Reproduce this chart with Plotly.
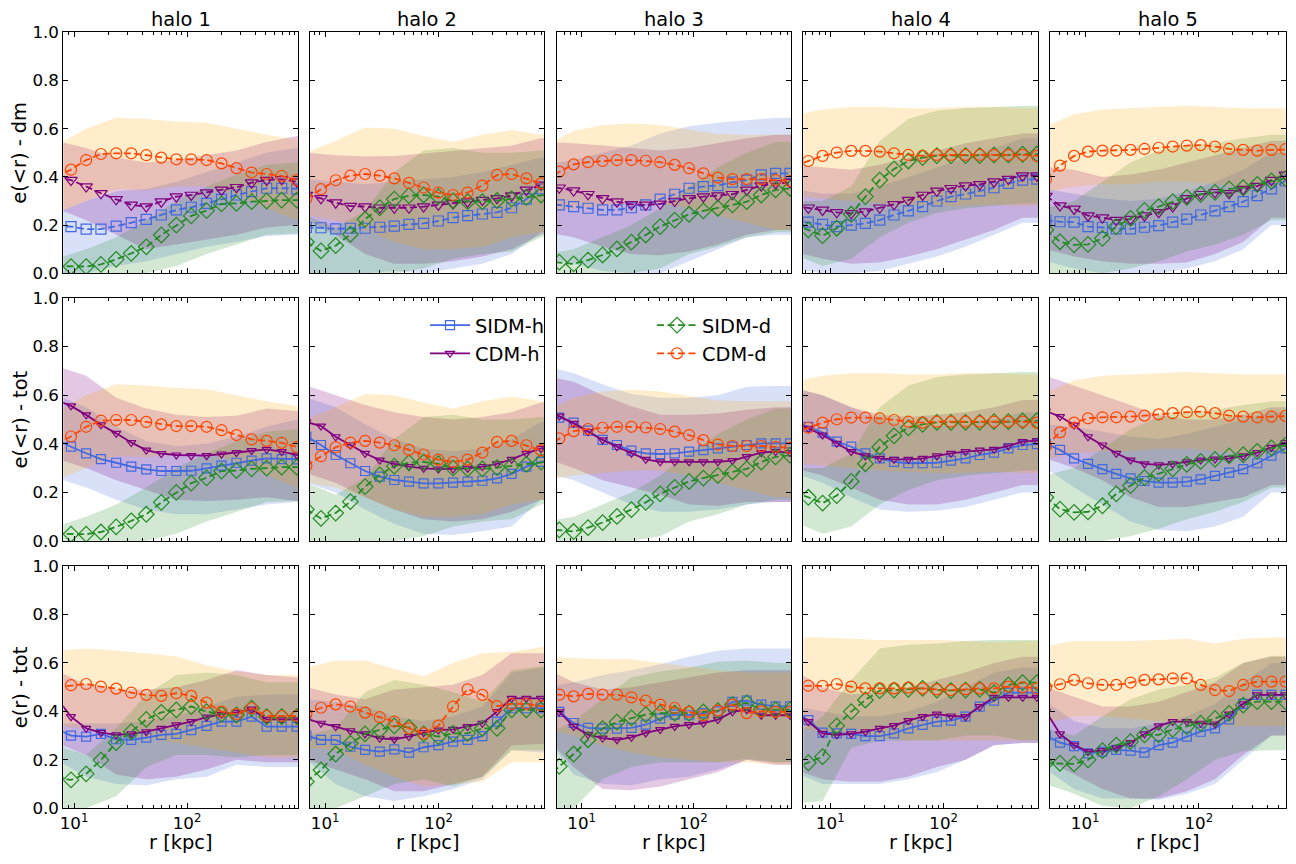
import plotly.graph_objects as go

# radios (kpc) de cada halo; el primero y el ultimo caen fuera del eje
r_h1 = [6.92, 9.40, 12.8, 17.3, 23.6, 32.1, 43.6, 59.2, 80.4, 109, 149, 202, 274, 373, 507, 689, 936, 1271]
r_h2 = [6.84, 9.20, 12.4, 16.7, 22.5, 30.3, 40.7, 54.8, 73.8, 99.5, 134, 180, 243, 327, 440, 593, 798, 1074]
r_h3 = [4.68, 6.30, 8.47, 11.4, 15.4, 20.7, 27.9, 37.5, 50.5, 68.1, 91.6, 123, 166, 224, 301, 406, 546, 735, 989]
r_h4 = [4.79, 6.40, 8.55, 11.4, 15.3, 20.4, 27.3, 36.5, 48.8, 65.2, 87.1, 116, 156, 208, 278, 372, 497, 664, 887]
r_h5 = [4.52, 6.01, 8.00, 10.6, 14.2, 18.8, 25.1, 33.3, 44.4, 59.0, 78.5, 104, 139, 185, 246, 327, 436, 579, 771]

# ---- halo 1 ----
cum_cdm_d_h1 = [0.40, 0.43, 0.47, 0.495, 0.498, 0.498, 0.49, 0.48, 0.473, 0.473, 0.47, 0.456, 0.436, 0.418, 0.412, 0.404, 0.387, 0.38]
cum_sidm_d_h1 = [0.03, 0.028, 0.028, 0.037, 0.058, 0.083, 0.11, 0.159, 0.2, 0.238, 0.26, 0.288, 0.29, 0.297, 0.3, 0.304, 0.304, 0.305]
dm_cdm_h_h1 = [0.40, 0.387, 0.36, 0.332, 0.307, 0.284, 0.277, 0.297, 0.318, 0.325, 0.335, 0.346, 0.357, 0.376, 0.387, 0.39, 0.38, 0.375]
dm_sidm_h_h1 = [0.195, 0.194, 0.183, 0.183, 0.196, 0.21, 0.224, 0.242, 0.263, 0.274, 0.29, 0.307, 0.325, 0.339, 0.353, 0.353, 0.349, 0.349]
tot_cdm_h_h1 = [0.58, 0.556, 0.519, 0.478, 0.443, 0.405, 0.374, 0.36, 0.354, 0.351, 0.351, 0.358, 0.364, 0.372, 0.377, 0.368, 0.354, 0.35]
tot_sidm_h_h1 = [0.42, 0.388, 0.361, 0.337, 0.322, 0.306, 0.295, 0.288, 0.288, 0.289, 0.299, 0.31, 0.322, 0.331, 0.34, 0.337, 0.336, 0.335]
diff_cdm_d_h1 = [0.50, 0.508, 0.513, 0.502, 0.494, 0.477, 0.468, 0.464, 0.475, 0.464, 0.436, 0.399, 0.389, 0.413, 0.381, 0.381, 0.381, 0.381]
diff_cdm_h_h1 = [0.46, 0.378, 0.33, 0.312, 0.303, 0.307, 0.316, 0.33, 0.344, 0.358, 0.376, 0.388, 0.396, 0.409, 0.367, 0.365, 0.365, 0.365]
diff_sidm_h_h1 = [0.33, 0.3, 0.296, 0.307, 0.285, 0.282, 0.292, 0.303, 0.307, 0.323, 0.34, 0.358, 0.358, 0.378, 0.337, 0.337, 0.337, 0.337]
diff_sidm_d_h1 = [0.125, 0.117, 0.142, 0.199, 0.271, 0.316, 0.367, 0.396, 0.406, 0.42, 0.399, 0.389, 0.385, 0.413, 0.378, 0.378, 0.378, 0.378]

cum_cdm_d_band_h1 = ([0.25, 0.30, 0.35, 0.345, 0.36, 0.36, 0.33, 0.27, 0.22, 0.21], [0.53, 0.60, 0.645, 0.64, 0.63, 0.625, 0.60, 0.575, 0.555, 0.55])
cum_sidm_d_band_h1 = ([0.0, 0.0, 0.0, 0.0, 0.03, 0.08, 0.12, 0.16, 0.165, 0.165], [0.06, 0.10, 0.15, 0.22, 0.30, 0.36, 0.41, 0.45, 0.46, 0.46])
dm_cdm_h_band_h1 = ([0.27, 0.22, 0.16, 0.10, 0.12, 0.14, 0.16, 0.19, 0.20, 0.20], [0.55, 0.52, 0.48, 0.46, 0.47, 0.49, 0.51, 0.545, 0.57, 0.57])
dm_sidm_h_band_h1 = ([0.0, 0.0, 0.03, 0.05, 0.08, 0.11, 0.13, 0.155, 0.16, 0.16], [0.25, 0.30, 0.34, 0.35, 0.38, 0.42, 0.46, 0.50, 0.52, 0.52])
tot_cdm_h_band_h1 = ([0.34, 0.30, 0.25, 0.21, 0.17, 0.165, 0.17, 0.18, 0.165, 0.165], [0.72, 0.68, 0.59, 0.545, 0.52, 0.51, 0.515, 0.545, 0.535, 0.535])
tot_sidm_h_band_h1 = ([0.26, 0.22, 0.17, 0.13, 0.11, 0.11, 0.13, 0.15, 0.16, 0.16], [0.60, 0.55, 0.47, 0.41, 0.39, 0.40, 0.43, 0.47, 0.50, 0.50])
diff_cdm_d_band_h1 = ([0.34, 0.33, 0.31, 0.29, 0.27, 0.25, 0.23, 0.21, 0.21, 0.21], [0.65, 0.66, 0.65, 0.64, 0.626, 0.59, 0.565, 0.55, 0.55, 0.55])
diff_cdm_h_band_h1 = ([0.27, 0.22, 0.14, 0.12, 0.13, 0.16, 0.20, 0.19, 0.19, 0.19], [0.57, 0.51, 0.49, 0.49, 0.50, 0.53, 0.57, 0.55, 0.54, 0.54])
diff_sidm_h_band_h1 = ([0.20, 0.13, 0.10, 0.095, 0.12, 0.13, 0.18, 0.17, 0.17, 0.17], [0.35, 0.35, 0.35, 0.36, 0.38, 0.42, 0.46, 0.47, 0.47, 0.47])
diff_sidm_d_band_h1 = ([0.0, 0.0, 0.05, 0.17, 0.22, 0.22, 0.21, 0.22, 0.22, 0.22], [0.26, 0.22, 0.33, 0.47, 0.55, 0.56, 0.55, 0.52, 0.52, 0.52])

# ---- halo 2 ----
cum_cdm_d_h2 = [0.31, 0.349, 0.386, 0.405, 0.412, 0.405, 0.394, 0.375, 0.356, 0.335, 0.325, 0.335, 0.364, 0.408, 0.412, 0.394, 0.373, 0.36]
cum_sidm_d_h2 = [0.13, 0.093, 0.115, 0.162, 0.224, 0.272, 0.308, 0.322, 0.325, 0.318, 0.3, 0.297, 0.297, 0.302, 0.309, 0.315, 0.325, 0.33]
dm_cdm_h_h2 = [0.325, 0.311, 0.293, 0.279, 0.277, 0.272, 0.272, 0.272, 0.277, 0.284, 0.29, 0.297, 0.304, 0.311, 0.322, 0.346, 0.367, 0.38]
dm_sidm_h_h2 = [0.19, 0.189, 0.184, 0.187, 0.187, 0.191, 0.196, 0.203, 0.207, 0.217, 0.231, 0.239, 0.246, 0.253, 0.272, 0.308, 0.35, 0.37]
tot_cdm_h_h2 = [0.49, 0.473, 0.429, 0.395, 0.361, 0.333, 0.317, 0.306, 0.299, 0.296, 0.296, 0.299, 0.306, 0.317, 0.336, 0.361, 0.381, 0.39]
tot_sidm_h_h2 = [0.43, 0.395, 0.354, 0.32, 0.288, 0.265, 0.251, 0.244, 0.237, 0.237, 0.24, 0.244, 0.248, 0.258, 0.276, 0.306, 0.326, 0.335]
diff_cdm_d_h2 = [0.39, 0.415, 0.429, 0.42, 0.395, 0.376, 0.358, 0.33, 0.309, 0.341, 0.42, 0.491, 0.468, 0.422, 0.431, 0.431, 0.422, 0.42]
diff_cdm_h_h2 = [0.37, 0.351, 0.337, 0.32, 0.307, 0.289, 0.285, 0.296, 0.312, 0.323, 0.326, 0.337, 0.351, 0.399, 0.454, 0.454, 0.454, 0.454]
diff_sidm_h_h2 = [0.30, 0.282, 0.282, 0.254, 0.241, 0.234, 0.243, 0.23, 0.252, 0.261, 0.275, 0.282, 0.298, 0.358, 0.413, 0.413, 0.413, 0.413]
diff_sidm_d_h2 = [0.11, 0.158, 0.224, 0.268, 0.307, 0.323, 0.34, 0.334, 0.307, 0.296, 0.309, 0.309, 0.33, 0.33, 0.406, 0.406, 0.406, 0.406]

cum_cdm_d_band_h2 = ([0.24, 0.22, 0.18, 0.13, 0.10, 0.10, 0.11, 0.15, 0.17, 0.17], [0.50, 0.55, 0.605, 0.60, 0.57, 0.545, 0.575, 0.595, 0.575, 0.575])
cum_sidm_d_band_h2 = ([0.0, 0.0, 0.0, 0.0, 0.02, 0.06, 0.08, 0.09, 0.15, 0.16], [0.24, 0.19, 0.26, 0.42, 0.51, 0.52, 0.50, 0.50, 0.51, 0.51])
dm_cdm_h_band_h2 = ([0.22, 0.16, 0.08, 0.04, 0.04, 0.05, 0.07, 0.10, 0.16, 0.17], [0.50, 0.49, 0.485, 0.487, 0.497, 0.508, 0.516, 0.53, 0.56, 0.56])
dm_sidm_h_band_h2 = ([0.0, 0.0, 0.0, 0.01, 0.0, 0.02, 0.04, 0.08, 0.17, 0.18], [0.39, 0.38, 0.37, 0.38, 0.39, 0.40, 0.42, 0.45, 0.48, 0.48])
tot_cdm_h_band_h2 = ([0.28, 0.24, 0.18, 0.13, 0.09, 0.08, 0.09, 0.12, 0.17, 0.17], [0.64, 0.60, 0.56, 0.53, 0.51, 0.50, 0.51, 0.53, 0.57, 0.57])
tot_sidm_h_band_h2 = ([0.24, 0.20, 0.13, 0.07, 0.03, 0.025, 0.04, 0.06, 0.17, 0.17], [0.59, 0.55, 0.48, 0.42, 0.38, 0.37, 0.38, 0.42, 0.49, 0.49])
diff_cdm_d_band_h2 = ([0.25, 0.24, 0.18, 0.13, 0.09, 0.10, 0.11, 0.19, 0.19, 0.19], [0.58, 0.61, 0.61, 0.575, 0.545, 0.60, 0.64, 0.645, 0.665, 0.665])
diff_cdm_h_band_h2 = ([0.20, 0.16, 0.12, 0.07, 0.07, 0.10, 0.13, 0.26, 0.265, 0.265], [0.50, 0.47, 0.45, 0.49, 0.50, 0.51, 0.55, 0.64, 0.64, 0.64])
diff_sidm_h_band_h2 = ([0.20, 0.10, 0.05, 0.03, 0.05, 0.08, 0.12, 0.24, 0.23, 0.23], [0.45, 0.44, 0.42, 0.38, 0.36, 0.38, 0.42, 0.56, 0.58, 0.58])
diff_sidm_d_band_h2 = ([0.0, 0.0, 0.05, 0.10, 0.12, 0.09, 0.13, 0.24, 0.24, 0.24], [0.30, 0.33, 0.48, 0.53, 0.51, 0.48, 0.44, 0.57, 0.585, 0.585])

# ---- halo 3 ----
cum_cdm_d_h3 = [0.39, 0.422, 0.452, 0.461, 0.466, 0.47, 0.47, 0.467, 0.461, 0.45, 0.436, 0.415, 0.397, 0.391, 0.391, 0.391, 0.387, 0.383, 0.38]
cum_sidm_d_h3 = [0.05, 0.046, 0.039, 0.055, 0.076, 0.101, 0.129, 0.159, 0.194, 0.221, 0.245, 0.259, 0.27, 0.284, 0.297, 0.325, 0.346, 0.353, 0.36]
dm_cdm_h_h3 = [0.365, 0.355, 0.343, 0.328, 0.311, 0.297, 0.286, 0.284, 0.288, 0.3, 0.311, 0.318, 0.322, 0.328, 0.346, 0.364, 0.373, 0.378, 0.38]
dm_sidm_h_h3 = [0.29, 0.284, 0.277, 0.27, 0.263, 0.263, 0.272, 0.284, 0.308, 0.328, 0.353, 0.36, 0.364, 0.378, 0.387, 0.408, 0.415, 0.415, 0.415]
tot_cdm_h_h3 = [0.54, 0.514, 0.484, 0.45, 0.416, 0.388, 0.361, 0.336, 0.326, 0.326, 0.326, 0.326, 0.326, 0.331, 0.347, 0.364, 0.368, 0.364, 0.36]
tot_sidm_h_h3 = [0.53, 0.508, 0.487, 0.454, 0.416, 0.395, 0.372, 0.361, 0.358, 0.361, 0.368, 0.374, 0.381, 0.388, 0.395, 0.402, 0.402, 0.402, 0.402]
diff_cdm_d_h3 = [0.47, 0.469, 0.462, 0.472, 0.469, 0.469, 0.458, 0.444, 0.428, 0.414, 0.398, 0.384, 0.403, 0.428, 0.393, 0.4, 0.398, 0.398, 0.398]
diff_cdm_h_h3 = [0.45, 0.398, 0.338, 0.304, 0.29, 0.283, 0.293, 0.311, 0.325, 0.338, 0.345, 0.352, 0.366, 0.398, 0.407, 0.384, 0.384, 0.384, 0.384]
diff_sidm_h_h3 = [0.44, 0.398, 0.352, 0.332, 0.329, 0.329, 0.332, 0.345, 0.37, 0.387, 0.384, 0.393, 0.4, 0.439, 0.444, 0.428, 0.421, 0.421, 0.421]
diff_sidm_d_h3 = [0.12, 0.173, 0.224, 0.283, 0.329, 0.356, 0.373, 0.387, 0.393, 0.393, 0.393, 0.398, 0.403, 0.428, 0.435, 0.407, 0.407, 0.407, 0.407]

cum_cdm_d_band_h3 = ([0.25, 0.27, 0.28, 0.29, 0.29, 0.27, 0.24, 0.21, 0.18, 0.18], [0.53, 0.59, 0.615, 0.622, 0.615, 0.595, 0.578, 0.575, 0.575, 0.575])
cum_sidm_d_band_h3 = ([0.0, 0.0, 0.0, 0.0, 0.02, 0.08, 0.11, 0.15, 0.17, 0.17], [0.08, 0.10, 0.15, 0.20, 0.27, 0.36, 0.44, 0.50, 0.545, 0.545])
dm_cdm_h_band_h3 = ([0.17, 0.15, 0.11, 0.08, 0.075, 0.09, 0.12, 0.16, 0.18, 0.18], [0.545, 0.54, 0.53, 0.52, 0.51, 0.52, 0.54, 0.56, 0.575, 0.575])
dm_sidm_h_band_h3 = ([0.06, 0.04, 0.01, 0.0, 0.0, 0.05, 0.10, 0.15, 0.16, 0.16], [0.45, 0.47, 0.50, 0.53, 0.58, 0.61, 0.625, 0.635, 0.645, 0.645])
tot_cdm_h_band_h3 = ([0.34, 0.30, 0.25, 0.22, 0.19, 0.15, 0.145, 0.16, 0.16, 0.16], [0.68, 0.655, 0.60, 0.555, 0.52, 0.52, 0.525, 0.54, 0.55, 0.55])
tot_sidm_h_band_h3 = ([0.28, 0.25, 0.20, 0.15, 0.12, 0.12, 0.13, 0.15, 0.16, 0.16], [0.72, 0.69, 0.645, 0.605, 0.59, 0.59, 0.60, 0.635, 0.638, 0.638])
diff_cdm_d_band_h3 = ([0.33, 0.30, 0.26, 0.23, 0.21, 0.20, 0.19, 0.19, 0.18, 0.18], [0.625, 0.62, 0.615, 0.615, 0.60, 0.585, 0.57, 0.56, 0.56, 0.56])
diff_cdm_h_band_h3 = ([0.30, 0.17, 0.08, 0.075, 0.09, 0.12, 0.15, 0.20, 0.18, 0.18], [0.58, 0.52, 0.49, 0.50, 0.52, 0.54, 0.56, 0.57, 0.57, 0.57])
diff_sidm_h_band_h3 = ([0.30, 0.14, 0.10, 0.095, 0.12, 0.13, 0.16, 0.20, 0.19, 0.19], [0.50, 0.52, 0.55, 0.57, 0.595, 0.625, 0.65, 0.66, 0.66, 0.66])
diff_sidm_d_band_h3 = ([0.0, 0.0, 0.12, 0.17, 0.19, 0.19, 0.19, 0.205, 0.19, 0.19], [0.30, 0.36, 0.45, 0.54, 0.565, 0.58, 0.605, 0.61, 0.60, 0.60])

# ---- halo 4 ----
cum_cdm_d_h4 = [0.445, 0.466, 0.487, 0.501, 0.508, 0.508, 0.505, 0.498, 0.491, 0.487, 0.491, 0.491, 0.491, 0.491, 0.491, 0.491, 0.491, 0.487, 0.487]
cum_sidm_d_h4 = [0.20, 0.18, 0.156, 0.187, 0.245, 0.318, 0.387, 0.433, 0.466, 0.48, 0.488, 0.488, 0.488, 0.488, 0.491, 0.491, 0.494, 0.495, 0.495]
dm_cdm_h_h4 = [0.28, 0.272, 0.263, 0.253, 0.249, 0.256, 0.272, 0.286, 0.304, 0.325, 0.342, 0.353, 0.364, 0.369, 0.38, 0.391, 0.405, 0.405, 0.405]
dm_sidm_h_h4 = [0.22, 0.212, 0.203, 0.194, 0.2, 0.207, 0.221, 0.242, 0.259, 0.277, 0.3, 0.318, 0.329, 0.342, 0.355, 0.373, 0.387, 0.391, 0.395]
tot_cdm_h_h4 = [0.49, 0.464, 0.436, 0.402, 0.368, 0.35, 0.34, 0.336, 0.336, 0.34, 0.35, 0.361, 0.368, 0.374, 0.377, 0.391, 0.409, 0.413, 0.413]
tot_sidm_h_h4 = [0.49, 0.47, 0.446, 0.409, 0.388, 0.361, 0.34, 0.326, 0.32, 0.32, 0.322, 0.331, 0.34, 0.354, 0.364, 0.381, 0.395, 0.399, 0.40]
diff_cdm_d_h4 = [0.505, 0.506, 0.505, 0.513, 0.502, 0.495, 0.495, 0.495, 0.498, 0.495, 0.491, 0.488, 0.491, 0.495, 0.495, 0.502, 0.499, 0.495, 0.495]
diff_cdm_h_h4 = [0.40, 0.358, 0.309, 0.303, 0.307, 0.316, 0.33, 0.341, 0.362, 0.378, 0.389, 0.381, 0.378, 0.42, 0.458, 0.458, 0.458, 0.458, 0.458]
diff_sidm_h_h4 = [0.40, 0.364, 0.312, 0.309, 0.307, 0.298, 0.298, 0.309, 0.33, 0.344, 0.358, 0.362, 0.378, 0.42, 0.444, 0.477, 0.477, 0.477, 0.477]
diff_sidm_d_h4 = [0.165, 0.188, 0.213, 0.34, 0.399, 0.447, 0.486, 0.488, 0.491, 0.495, 0.488, 0.486, 0.488, 0.491, 0.477, 0.509, 0.519, 0.519, 0.519]

cum_cdm_d_band_h4 = ([0.32, 0.31, 0.30, 0.29, 0.285, 0.28, 0.28, 0.285, 0.28, 0.28], [0.655, 0.68, 0.69, 0.69, 0.685, 0.685, 0.69, 0.69, 0.685, 0.685])
cum_sidm_d_band_h4 = ([0.08, 0.03, 0.06, 0.15, 0.21, 0.25, 0.27, 0.28, 0.29, 0.29], [0.30, 0.30, 0.36, 0.55, 0.64, 0.675, 0.685, 0.69, 0.695, 0.695])
dm_cdm_h_band_h4 = ([0.09, 0.06, 0.04, 0.045, 0.07, 0.10, 0.14, 0.18, 0.23, 0.23], [0.45, 0.44, 0.43, 0.45, 0.48, 0.51, 0.54, 0.56, 0.58, 0.58])
dm_sidm_h_band_h4 = ([0.02, 0.0, 0.0, 0.01, 0.04, 0.07, 0.11, 0.16, 0.21, 0.21], [0.35, 0.33, 0.33, 0.36, 0.40, 0.44, 0.48, 0.52, 0.56, 0.56])
tot_cdm_h_band_h4 = ([0.30, 0.27, 0.22, 0.17, 0.15, 0.15, 0.17, 0.20, 0.23, 0.23], [0.63, 0.60, 0.55, 0.52, 0.51, 0.52, 0.53, 0.55, 0.58, 0.58])
tot_sidm_h_band_h4 = ([0.28, 0.24, 0.18, 0.13, 0.12, 0.125, 0.14, 0.17, 0.20, 0.20], [0.63, 0.60, 0.55, 0.50, 0.47, 0.47, 0.48, 0.50, 0.53, 0.53])
diff_cdm_d_band_h4 = ([0.33, 0.32, 0.30, 0.29, 0.28, 0.28, 0.28, 0.28, 0.28, 0.28], [0.705, 0.705, 0.70, 0.695, 0.695, 0.695, 0.69, 0.685, 0.69, 0.69])
diff_cdm_h_band_h4 = ([0.16, 0.12, 0.11, 0.11, 0.13, 0.17, 0.20, 0.26, 0.27, 0.27], [0.57, 0.50, 0.47, 0.48, 0.50, 0.53, 0.56, 0.60, 0.625, 0.625])
diff_sidm_h_band_h4 = ([0.15, 0.10, 0.10, 0.10, 0.12, 0.15, 0.20, 0.26, 0.27, 0.27], [0.42, 0.40, 0.38, 0.38, 0.40, 0.44, 0.50, 0.56, 0.58, 0.58])
diff_sidm_d_band_h4 = ([0.02, 0.03, 0.25, 0.28, 0.28, 0.28, 0.30, 0.30, 0.28, 0.28], [0.30, 0.38, 0.53, 0.66, 0.675, 0.68, 0.69, 0.695, 0.695, 0.695])

# ---- halo 5 ----
cum_cdm_d_h5 = [0.39, 0.447, 0.487, 0.505, 0.509, 0.509, 0.512, 0.516, 0.521, 0.526, 0.53, 0.532, 0.526, 0.516, 0.512, 0.509, 0.512, 0.515, 0.515]
cum_sidm_d_h5 = [0.18, 0.131, 0.118, 0.12, 0.145, 0.194, 0.228, 0.261, 0.277, 0.297, 0.315, 0.328, 0.336, 0.35, 0.355, 0.369, 0.383, 0.394, 0.40]
dm_cdm_h_h5 = [0.32, 0.281, 0.267, 0.239, 0.231, 0.221, 0.225, 0.239, 0.253, 0.277, 0.311, 0.328, 0.336, 0.332, 0.349, 0.362, 0.387, 0.408, 0.41]
dm_sidm_h_h5 = [0.22, 0.214, 0.212, 0.194, 0.19, 0.184, 0.184, 0.191, 0.198, 0.212, 0.225, 0.242, 0.259, 0.277, 0.297, 0.322, 0.35, 0.383, 0.39]
tot_cdm_h_h5 = [0.535, 0.512, 0.477, 0.429, 0.395, 0.361, 0.333, 0.317, 0.313, 0.317, 0.326, 0.333, 0.337, 0.34, 0.35, 0.364, 0.385, 0.405, 0.41]
tot_sidm_h_h5 = [0.40, 0.375, 0.34, 0.317, 0.296, 0.276, 0.258, 0.247, 0.24, 0.24, 0.244, 0.254, 0.268, 0.281, 0.296, 0.32, 0.351, 0.381, 0.385]
diff_cdm_d_h5 = [0.50, 0.512, 0.53, 0.516, 0.509, 0.509, 0.519, 0.53, 0.532, 0.536, 0.536, 0.509, 0.488, 0.484, 0.509, 0.523, 0.523, 0.523, 0.523]
diff_cdm_h_h5 = [0.40, 0.307, 0.261, 0.234, 0.238, 0.248, 0.271, 0.307, 0.34, 0.358, 0.358, 0.351, 0.348, 0.389, 0.431, 0.468, 0.468, 0.468, 0.468]
diff_sidm_h_h5 = [0.30, 0.271, 0.257, 0.227, 0.234, 0.241, 0.238, 0.23, 0.261, 0.271, 0.296, 0.316, 0.33, 0.367, 0.431, 0.468, 0.468, 0.468, 0.468]
diff_sidm_d_h5 = [0.186, 0.186, 0.183, 0.2, 0.238, 0.261, 0.275, 0.303, 0.303, 0.326, 0.337, 0.351, 0.371, 0.392, 0.426, 0.44, 0.44, 0.44, 0.44]

cum_cdm_d_band_h5 = ([0.34, 0.36, 0.37, 0.37, 0.38, 0.38, 0.37, 0.36, 0.36, 0.36], [0.61, 0.66, 0.68, 0.685, 0.69, 0.695, 0.69, 0.685, 0.685, 0.685])
cum_sidm_d_band_h5 = ([0.0, 0.0, 0.0, 0.02, 0.05, 0.09, 0.12, 0.16, 0.22, 0.22], [0.27, 0.30, 0.38, 0.46, 0.51, 0.53, 0.54, 0.56, 0.575, 0.575])
dm_cdm_h_band_h5 = ([0.10, 0.07, 0.05, 0.04, 0.04, 0.045, 0.08, 0.13, 0.23, 0.23], [0.44, 0.43, 0.40, 0.41, 0.43, 0.46, 0.49, 0.52, 0.55, 0.55])
dm_sidm_h_band_h5 = ([0.05, 0.02, 0.0, 0.0, 0.0, 0.02, 0.05, 0.10, 0.20, 0.20], [0.35, 0.33, 0.31, 0.30, 0.31, 0.34, 0.38, 0.43, 0.50, 0.50])
tot_cdm_h_band_h5 = ([0.34, 0.30, 0.25, 0.18, 0.14, 0.14, 0.16, 0.18, 0.23, 0.23], [0.68, 0.64, 0.60, 0.56, 0.52, 0.50, 0.50, 0.52, 0.55, 0.55])
tot_sidm_h_band_h5 = ([0.30, 0.22, 0.15, 0.08, 0.045, 0.04, 0.06, 0.10, 0.20, 0.20], [0.48, 0.47, 0.45, 0.43, 0.42, 0.44, 0.47, 0.50, 0.53, 0.53])
diff_cdm_d_band_h5 = ([0.35, 0.38, 0.38, 0.37, 0.36, 0.35, 0.34, 0.34, 0.34, 0.34], [0.67, 0.69, 0.69, 0.69, 0.695, 0.70, 0.68, 0.70, 0.705, 0.705])
diff_cdm_h_band_h5 = ([0.20, 0.14, 0.08, 0.04, 0.04, 0.07, 0.12, 0.22, 0.30, 0.30], [0.50, 0.46, 0.42, 0.42, 0.44, 0.48, 0.52, 0.60, 0.625, 0.625])
diff_sidm_h_band_h5 = ([0.16, 0.08, 0.04, 0.04, 0.035, 0.06, 0.10, 0.20, 0.30, 0.30], [0.44, 0.36, 0.33, 0.33, 0.35, 0.38, 0.43, 0.52, 0.60, 0.60])
diff_sidm_d_band_h5 = ([0.10, 0.06, 0.01, 0.0, 0.05, 0.12, 0.20, 0.235, 0.24, 0.24], [0.33, 0.30, 0.38, 0.45, 0.49, 0.51, 0.54, 0.60, 0.63, 0.63])

halo_titles = ["halo 1", "halo 2", "halo 3", "halo 4", "halo 5"]
row_labels = ["e(&lt;r) - dm", "e(&lt;r) - tot", "e(r) - tot"]

# ---- estilo ----
W, H = 1296, 864
OFF = 8  # margen del body de la pagina
FONT = "DejaVu Sans"
BIG = 19.4   # 14 pt
SMALL = 16.7  # 12 pt
col_px = [(63.3, 298.3), (310, 544.3), (557, 791), (803.3, 1038), (1050, 1285.7)]
row_px = [(32.3, 273.3), (298, 541), (566, 808.3)]
x_ranges = [(0.905, 2.985), (0.867, 2.931), (0.779, 2.875), (0.762, 2.832), (0.691, 2.765)]


def px_x(p):
    return (p - OFF) / W


def px_y(p):
    return 1 - (p - OFF) / H


STYLE = {
    "SIDM-h": dict(color="#4169E1", fill="rgba(65,105,225,0.2)", symbol="square-open", size=10),
    "CDM-h": dict(color="#800080", fill="rgba(128,0,128,0.22)", symbol="triangle-down-open", size=11),
    "SIDM-d": dict(color="#228B22", fill="rgba(34,139,34,0.2)", symbol="diamond-open", size=12),
    "CDM-d": dict(color="#FF4500", fill="rgba(255,165,0,0.2)", symbol="circle-open", size=11),
}

# series de cada fila: (nombre, prefijo de variable, discontinua)
row_series = [
    [("SIDM-h", "dm_sidm_h", True), ("CDM-h", "dm_cdm_h", True), ("SIDM-d", "cum_sidm_d", True), ("CDM-d", "cum_cdm_d", True)],
    [("SIDM-h", "tot_sidm_h", False), ("CDM-h", "tot_cdm_h", False), ("SIDM-d", "cum_sidm_d", True), ("CDM-d", "cum_cdm_d", True)],
    [("SIDM-h", "diff_sidm_h", False), ("CDM-h", "diff_cdm_h", False), ("SIDM-d", "diff_sidm_d", True), ("CDM-d", "diff_cdm_d", True)],
]

fig = go.Figure()
minor_vals = [m * 10 ** e for e in range(0, 4) for m in range(2, 10)]
layout = {}

for i in range(3):
    for j in range(5):
        h = j + 1
        n = i * 5 + j + 1
        sfx = "" if n == 1 else str(n)
        r = globals()[f"r_h{h}"]
        rb = r[::2] if len(r) % 2 else r[::2] + [r[-1]]

        # bandas primero
        for name, key, dashed in row_series[i]:
            lo, hi = globals()[f"{key}_band_h{h}"]
            fig.add_trace(go.Scatter(
                x=rb + rb[::-1], y=hi + lo[::-1], fill="toself",
                fillcolor=STYLE[name]["fill"], line=dict(width=0), mode="lines",
                hoverinfo="skip", showlegend=False, xaxis="x" + sfx, yaxis="y" + sfx,
            ))

        # lineas con marcadores
        for name, key, dashed in row_series[i]:
            st = STYLE[name]
            size = st["size"]
            if i > 0 and name.endswith("-h"):
                size = 9 if name == "SIDM-h" else 8
            leg = None
            if i == 1 and j == 1 and name.endswith("-h"):
                leg = "legend"
            if i == 1 and j == 2 and name.endswith("-d"):
                leg = "legend2"
            fig.add_trace(go.Scatter(
                x=r, y=globals()[f"{key}_h{h}"], mode="lines+markers", name=name,
                line=dict(color=st["color"], width=1.8, dash="7px,3.5px" if dashed else "solid"),
                marker=dict(symbol=st["symbol"], size=size, color=st["color"], line=dict(width=1.2, color=st["color"])),
                showlegend=leg is not None, legend=leg or "legend",
                xaxis="x" + sfx, yaxis="y" + sfx,
            ))

        layout["xaxis" + sfx] = dict(
            type="log", range=list(x_ranges[j]), anchor="y" + sfx,
            domain=[px_x(col_px[j][0]), px_x(col_px[j][1])],
            tickvals=[10, 100], ticktext=["10<sup>1</sup>", "10<sup>2</sup>"],
            showticklabels=(i == 2), ticks="inside", ticklen=5, tickcolor="black",
            mirror="ticks", showline=True, linecolor="black", linewidth=1,
            showgrid=False, zeroline=False, automargin=False,
            tickfont=dict(size=SMALL, color="black", family=FONT),
            minor=dict(tickvals=minor_vals, ticks="inside", ticklen=3, tickcolor="black", showgrid=False),
        )
        layout["yaxis" + sfx] = dict(
            range=[0, 1], anchor="x" + sfx,
            domain=[px_y(row_px[i][1]), px_y(row_px[i][0])],
            tick0=0, dtick=0.2, tickformat=".1f",
            showticklabels=(j == 0), ticks="inside", ticklen=5, tickcolor="black",
            mirror="ticks", showline=True, linecolor="black", linewidth=1,
            showgrid=False, zeroline=False, automargin=False,
            tickfont=dict(size=SMALL, color="black", family=FONT),
        )

# textos: titulos de columna, ejes
annotations = []
for j in range(5):
    xc = px_x((col_px[j][0] + col_px[j][1]) / 2)
    annotations.append(dict(text=halo_titles[j], x=xc, y=px_y(19), xref="paper", yref="paper",
                            xanchor="center", yanchor="middle", showarrow=False,
                            font=dict(size=BIG, color="black", family=FONT)))
    annotations.append(dict(text="r [kpc]", x=xc, y=px_y(842), xref="paper", yref="paper",
                            xanchor="center", yanchor="middle", showarrow=False,
                            font=dict(size=BIG, color="black", family=FONT)))
for i in range(3):
    yc = px_y((row_px[i][0] + row_px[i][1]) / 2)
    annotations.append(dict(text=row_labels[i], x=px_x(20), y=yc, xref="paper", yref="paper",
                            xanchor="center", yanchor="middle", textangle=-90, showarrow=False,
                            font=dict(size=BIG, color="black", family=FONT)))

fig.update_layout(
    width=W, height=H, margin=dict(l=0, r=0, t=0, b=0),
    paper_bgcolor="white", plot_bgcolor="white",
    font=dict(family=FONT, color="black"),
    annotations=annotations,
    legend=dict(x=px_x(425), y=px_y(306), xanchor="left", yanchor="top", bgcolor="rgba(0,0,0,0)",
                font=dict(size=BIG, family=FONT), itemwidth=40),
    legend2=dict(x=px_x(652), y=px_y(306), xanchor="left", yanchor="top", bgcolor="rgba(0,0,0,0)",
                 font=dict(size=BIG, family=FONT), itemwidth=40),
    **layout,
)

fig.write_html("out.html")
